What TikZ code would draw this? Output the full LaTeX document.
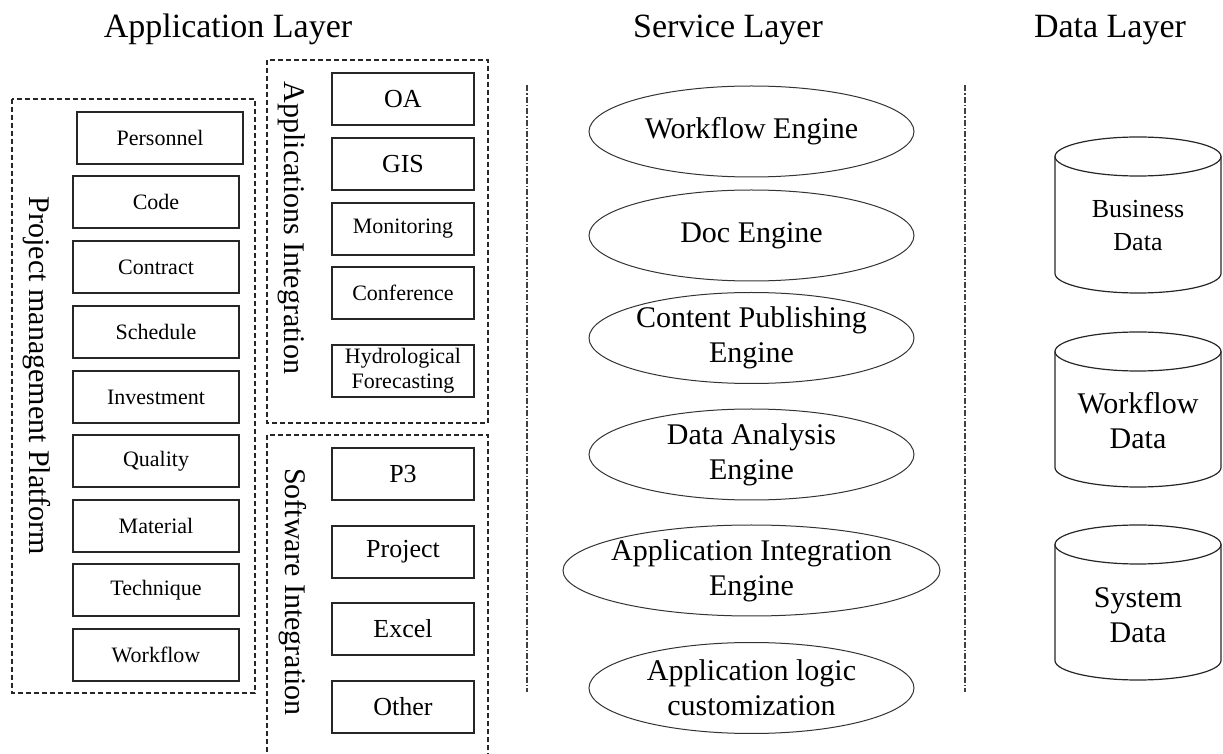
\documentclass[tikz,border=0pt]{standalone}
\usepackage{fontspec}
\setmainfont{Liberation Serif}
\usetikzlibrary{shapes.geometric}

\tikzset{
  layer/.style={anchor=base, font=\fontsize{17}{20}\selectfont},
  group/.style={draw=black!85, line width=0.55pt, dash pattern=on 2.5pt off 1.5pt},
  grouplabel/.style={rotate=-90, font=\fontsize{15}{18}\selectfont},
  module/.style={draw=black!85, line width=0.7pt, minimum width=83pt, minimum height=26pt, inner sep=1pt, font=\fontsize{11}{12.5}\selectfont},
  tool/.style={draw=black!85, line width=0.7pt, minimum width=71pt, minimum height=26pt, inner sep=1pt, align=center, font=\fontsize{13}{15}\selectfont},
  smalltool/.style={tool, font=\fontsize{11}{12.5}\selectfont},
  engine/.style={ellipse, draw=black!80, line width=0.5pt, minimum width=162.5pt, minimum height=45.5pt, inner xsep=-30pt, inner ysep=-10pt, align=center, font=\fontsize{15}{17.5}\selectfont},
  divider/.style={draw=black!75, line width=0.6pt, dash pattern=on 3pt off 1pt on 0.8pt off 1pt},
  store/.style={draw=black!85, line width=0.6pt},
  storetext/.style={align=center, font=\fontsize{15}{17.5}\selectfont},
}

\begin{document}
\begin{tikzpicture}[x=0.5pt, y=-0.5pt]
\useasboundingbox (0,0) rectangle (1223,754);
\clip (0,0) rectangle (1223,754);

% layer titles
\node[layer] (applayer) at (228,38) {Application Layer};
\node[layer] (servlayer) at (728,38) {Service Layer};
\node[layer] (datalayer) at (1110,38) {Data Layer};

% application layer groups
\draw[group] (12,99) rectangle (255,693);
\draw[group] (267,60) rectangle (488,423);
\draw[group] (267,435) rectangle (488,770);
\node[grouplabel] (pmp) at (37,376) {Project management Platform};
\node[grouplabel] (appint) at (292,228) {Applications Integration};
\node[grouplabel] (softint) at (293,592) {Software Integration};

% platform modules
\node[module] (personnel) at (160,138) {Personnel};
\node[module] (code) at (156,202) {Code};
\node[module] (contract) at (156,267) {Contract};
\node[module] (schedule) at (156,332) {Schedule};
\node[module] (investment) at (156,397) {Investment};
\node[module] (quality) at (156,461) {Quality};
\node[module] (material) at (156,526) {Material};
\node[module] (technique) at (156,590) {Technique};
\node[module] (workflow) at (156,655) {Workflow};

% integrated applications
\node[tool] (oa) at (403,99) {OA};
\node[tool] (gis) at (403,164) {GIS};
\node[smalltool] (monitoring) at (403,229) {Monitoring};
\node[smalltool] (conference) at (403,293) {Conference};
\node[smalltool] (hydro) at (403,371) {Hydrological\\Forecasting};

% integrated software
\node[tool] (p3) at (403,474) {P3};
\node[tool] (project) at (403,552) {Project};
\node[tool] (excel) at (403,629) {Excel};
\node[tool] (other) at (403,707) {Other};

% separators
\draw[divider] (527,85) -- (527,692);
\draw[divider] (965,85) -- (965,692);

% service layer
\node[engine] (wfengine) at (751.5,131.5) {Workflow Engine};
\node[engine] (docengine) at (751.5,235.5) {Doc Engine};
\node[engine] (pubengine) at (751.5,338) {Content Publishing\\Engine};
\node[engine] (anaengine) at (751.5,454.5) {Data Analysis\\Engine};
\node[engine, minimum width=188.5pt] (intengine) at (751.5,570.5) {Application Integration\\Engine};
\node[engine] (logic) at (751.5,688) {Application logic\\customization};

% data layer stores
\draw[store] (1055,156.5) -- (1055,273.5) arc[start angle=180, end angle=0, x radius=83, y radius=19.5] -- (1221,156.5);
\draw[store] (1138,156.5) ellipse [x radius=83, y radius=19.5];
\node[storetext, font=\fontsize{13}{16.5}\selectfont] (business) at (1138,226) {Business\\Data};

\draw[store] (1055,351.5) -- (1055,467.5) arc[start angle=180, end angle=0, x radius=83, y radius=19.5] -- (1221,351.5);
\draw[store] (1138,351.5) ellipse [x radius=83, y radius=19.5];
\node[storetext] (wfdata) at (1138,421) {Workflow\\Data};

\draw[store] (1055,544.5) -- (1055,660.5) arc[start angle=180, end angle=0, x radius=83, y radius=19.5] -- (1221,544.5);
\draw[store] (1138,544.5) ellipse [x radius=83, y radius=19.5];
\node[storetext] (sysdata) at (1138,615) {System\\Data};
\end{tikzpicture}
\end{document}
